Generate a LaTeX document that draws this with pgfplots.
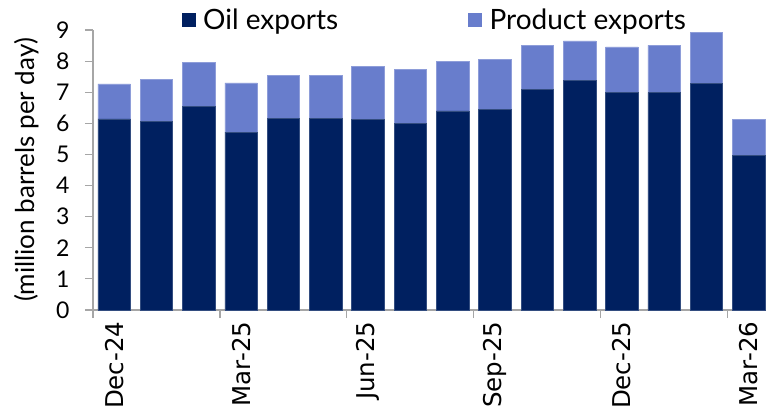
\documentclass[border=0pt]{standalone}
\usepackage{pgfplots}
\pgfplotsset{compat=1.18}
\usepackage{pgfplotstable}
\usepackage{fontspec}
\setmainfont{Lato}
\newfontfamily\dejavu{DejaVu Sans}
\definecolor{oilnavy}{RGB}{0,32,96}
\definecolor{prodblue}{RGB}{104,125,204}
\definecolor{axisgray}{RGB}{166,166,166}

% month index, oil exports, product exports (mb/d)
\pgfplotstableread{
idx oil product
0  6.14 1.13
1  6.06 1.35
2  6.54 1.41
3  5.72 1.58
4  6.15 1.38
5  6.17 1.38
6  6.12 1.70
7  5.99 1.75
8  6.40 1.59
9  6.44 1.62
10 7.08 1.42
11 7.37 1.28
12 6.99 1.47
13 6.99 1.52
14 7.28 1.65
15 4.96 1.17
}\exports

\begin{document}
\begin{tikzpicture}
\begin{axis}[
  scale only axis,
  width=677pt, height=280pt,
  ybar stacked,
  bar width=32.5pt,
  xmin=-0.5, xmax=15.5,
  ymin=0, ymax=9,
  axis x line=bottom, axis y line=left,
  axis line style={axisgray, line width=1.2pt, -},
  tick align=outside,
  major tick length=8pt,
  tick style={axisgray, line width=1.2pt},
  ytick={0,1,2,3,4,5,6,7,8,9},
  yticklabel style={font=\fontsize{23}{23}\selectfont, xshift=-12pt},
  /pgf/number format/assume math mode=true,
  xtick={-0.5,2.5,5.5,8.5,11.5,14.5},
  xticklabels={},
  extra x ticks={0,3,6,9,12,15},
  extra x tick labels={Dec-24,Mar-25,Jun-25,Sep-25,Dec-25,Mar-26},
  extra x tick style={tick style={draw=none}},
  x tick label style={rotate=90, anchor=east, font=\dejavu\fontsize{24.5}{24.5}\selectfont},
  ylabel={(million barrels per day)},
  ylabel style={at={(axis description cs:0,0.5)}, anchor=center, yshift=66pt, font=\fontsize{26}{26}\selectfont},
  legend columns=2,
  legend style={at={(0.505,1)}, anchor=center, yshift=10pt, draw=none, fill=none,
    font=\fontsize{28}{32}\selectfont,
    /tikz/every even column/.append style={column sep=128pt}},
  legend image code/.code={\draw[#1, draw=none] (0pt,-7pt) rectangle (14pt,7pt); \path (19pt,0pt);},
  clip=false,
]
  \addplot[fill=oilnavy, draw=oilnavy!80!white, line width=0.6pt] table[x=idx, y=oil] {\exports};
  \addplot[fill=prodblue, draw=prodblue!75!white, line width=0.6pt] table[x=idx, y=product] {\exports};
  \legend{Oil exports, Product exports}
\end{axis}
\pgfresetboundingbox
\path[use as bounding box] (-93pt,-105pt) rectangle (673pt,310pt);
\end{tikzpicture}
\end{document}
